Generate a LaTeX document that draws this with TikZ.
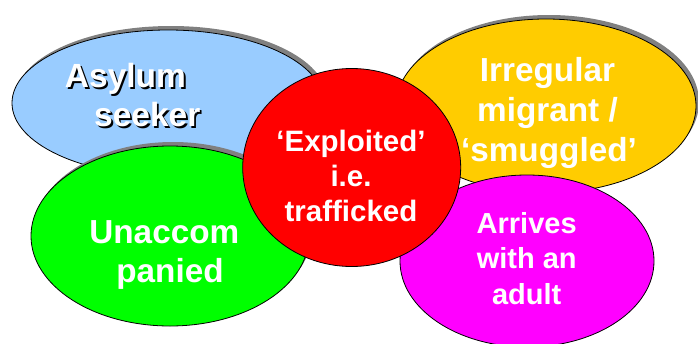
\documentclass[tikz,border=0pt]{standalone}
\usepackage{fontspec}
\setmainfont{Liberation Sans}
\usetikzlibrary{shapes.geometric,shadows}
\definecolor{blueF}{HTML}{99CCFF}
\definecolor{greenF}{HTML}{00FF00}
\definecolor{redF}{HTML}{FF0000}
\definecolor{yellowF}{HTML}{FFCC00}
\definecolor{magentaF}{HTML}{FF00FF}
\definecolor{shadowgray}{HTML}{808080}
\newcommand\shtext[1]{\makebox[0pt][l]{\kern1.8pt\raisebox{-1.8pt}{\textcolor{black}{#1}}}#1}
\tikzset{
  blob/.style={ellipse, draw=black, line width=0.8pt, inner sep=0pt},
  shad/.style={drop shadow={shadow xshift=3pt, shadow yshift=4pt, fill=shadowgray, opacity=1}},
  lbl/.style={text=white, anchor=base, inner sep=0pt, font=\fontsize{#1}{#1}\selectfont\bfseries},
}
\begin{document}
\begin{tikzpicture}[x=1pt,y=-1pt]
\useasboundingbox (0,0) rectangle (698,343);
% shapes
\node[blob, shad, fill=blueF, minimum width=312pt, minimum height=146pt] (asylum) at (168,103) {};
\node[blob, shad, fill=greenF, minimum width=278pt, minimum height=180pt] (unacc) at (170,236) {};
\node[blob, shad, fill=yellowF, minimum width=300pt, minimum height=174pt] (irreg) at (546,106) {};
\node[blob, fill=magentaF, minimum width=254pt, minimum height=172pt] (adult) at (527,261) {};
\node[blob, fill=redF, minimum width=218pt, minimum height=198pt] (exploit) at (351.7,167.5) {};
% texts
\node[lbl=33.5] (t1a) at (125.5,87.7) {\shtext{Asylum}};
\node[lbl=33.5] (t1b) at (147.3,126.7) {\shtext{seeker}};
\node[lbl=33.3] (t2a) at (164.3,243.3) {Unaccom};
\node[lbl=33.3] (t2b) at (170,282.7) {panied};
\node[lbl=33.3] (t3a) at (547.5,81) {Irregular};
\node[lbl=33.3] (t3b) at (547.5,121.7) {migrant /};
\node[lbl=33.3] (t3c) at (549,161.7) {‘smuggled’};
\node[lbl=29.5] (t4a) at (351,151.7) {‘Exploited’};
\node[lbl=29.5] (t4b) at (351,186.7) {i.e.};
\node[lbl=29.5] (t4c) at (351,221.7) {trafficked};
\node[lbl=29] (t5a) at (526.7,233.3) {Arrives};
\node[lbl=29] (t5b) at (526.7,268.3) {with an};
\node[lbl=29] (t5c) at (526.7,304) {adult};
\end{tikzpicture}
\end{document}
